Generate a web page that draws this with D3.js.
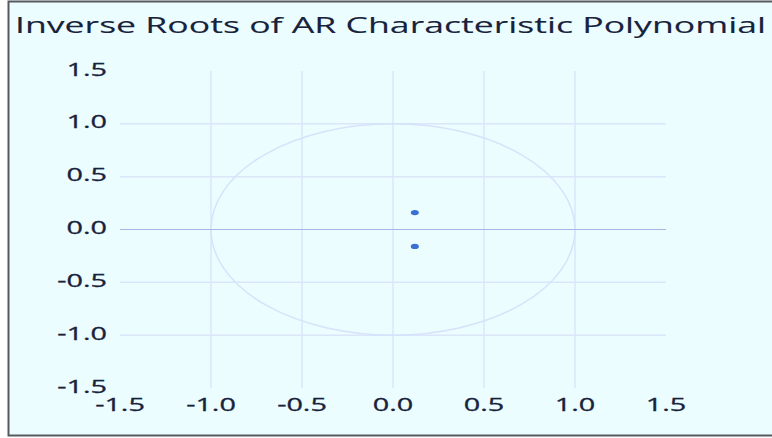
<!DOCTYPE html>
<html>
<head>
<meta charset="utf-8">
<script src="https://cdn.jsdelivr.net/npm/d3@7"></script>
<style>
  body { margin: 0; background: #fff; }
  svg { display: block; }
</style>
</head>
<body>
<svg id="chart" width="772" height="438"></svg>
<script>
// Chart values
const title_str = 'Inverse Roots of AR Characteristic Polynomial';
const root_re = [0.12, 0.12];
const root_im = [0.16, -0.16];
const x_ticks = [-1.5, -1.0, -0.5, 0.0, 0.5, 1.0, 1.5];
const y_ticks = [1.5, 1.0, 0.5, 0.0, -0.5, -1.0, -1.5];
const grid_vals = [-1.0, -0.5, 0.0, 0.5, 1.0];

const svg = d3.select('#chart');
const width = +svg.attr('width');
const height = +svg.attr('height');

// plot area
const margin = {top: 71, bottom: 50, left: 120, right: 106};
const xScale = d3.scaleLinear()
    .domain([-1.5, 1.5])
    .range([margin.left, width - margin.right]);
const yScale = d3.scaleLinear()
    .domain([-1.5, 1.5])
    .range([height - margin.bottom, margin.top]);

const text_color = '#18223c';
const grid_color = '#dbe6fa';
const stretch = 1.6;

// frame
svg.append('rect')
    .attr('x', 8.5)
    .attr('y', 1.5)
    .attr('width', width + 10)
    .attr('height', 434)
    .style('fill', '#ebfdfe')
    .style('stroke', '#555a5e')
    .style('stroke-width', 2);

// title
svg.append('text')
    .attr('x', 15)
    .attr('y', 33)
    .attr('textLength', 751)
    .attr('lengthAdjust', 'spacingAndGlyphs')
    .text(title_str)
    .style('font-family', 'Open Sans')
    .style('font-size', 21)
    .style('fill', text_color)
    .style('stroke', text_color)
    .style('stroke-width', 0.1);

const g = svg.append('g');

// vertical grid
grid_vals.forEach(v => {
    g.append('line')
        .attr('x1', xScale(v))
        .attr('x2', xScale(v))
        .attr('y1', yScale(1.5))
        .attr('y2', yScale(-1.5))
        .style('stroke', grid_color)
        .style('stroke-width', 1.5);
});

// horizontal grid (zero line drawn later)
grid_vals.filter(v => v != 0).forEach(v => {
    g.append('line')
        .attr('x1', xScale(-1.5))
        .attr('x2', xScale(1.5))
        .attr('y1', yScale(v))
        .attr('y2', yScale(v))
        .style('stroke', grid_color)
        .style('stroke-width', 1.5);
});

// unit circle
g.append('ellipse')
    .attr('cx', xScale(0))
    .attr('cy', yScale(0))
    .attr('rx', xScale(1) - xScale(0))
    .attr('ry', yScale(0) - yScale(1))
    .style('fill', 'none')
    .style('stroke', '#d6e3fb')
    .style('stroke-width', 1.5);

// zero line
g.append('line')
    .attr('x1', xScale(-1.5))
    .attr('x2', xScale(1.5))
    .attr('y1', yScale(0))
    .attr('y2', yScale(0))
    .style('stroke', '#a8b6e6')
    .style('stroke-width', 1.2);

// roots
for (let i = 0; i < root_re.length; i++) {
    g.append('ellipse')
        .attr('cx', xScale(root_re[i]))
        .attr('cy', yScale(root_im[i]))
        .attr('rx', 4)
        .attr('ry', 2.6)
        .style('fill', '#3a70d2');
}

// y labels
y_ticks.forEach(v => {
    svg.append('text')
        .attr('transform', `translate(107,${yScale(v) + 4.5}) scale(${stretch},1)`)
        .attr('text-anchor', 'end')
        .text(d3.format('.1f')(v).replace('−', '-'))
        .style('font-family', 'Open Sans')
        .style('font-size', 18)
        .style('fill', text_color)
        .style('stroke', text_color)
        .style('stroke-width', 0.3);
});

// x labels
x_ticks.forEach(v => {
    svg.append('text')
        .attr('transform', `translate(${xScale(v)},411) scale(${stretch},1)`)
        .attr('text-anchor', 'middle')
        .text(d3.format('.1f')(v).replace('−', '-'))
        .style('font-family', 'Open Sans')
        .style('font-size', 18)
        .style('fill', text_color)
        .style('stroke', text_color)
        .style('stroke-width', 0.3);
});
</script>
</body>
</html>
